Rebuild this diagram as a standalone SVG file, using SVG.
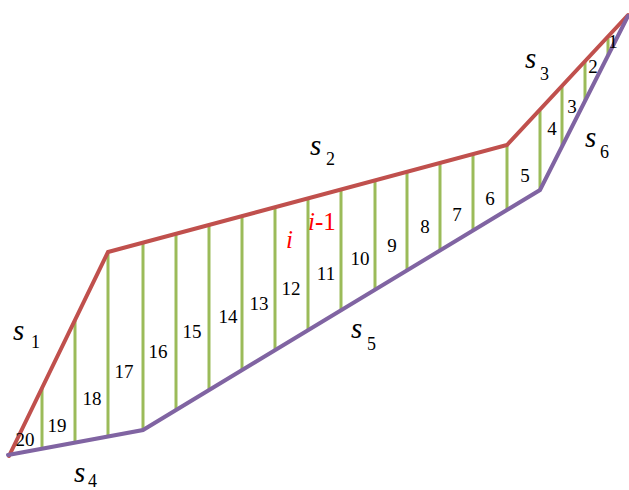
<svg xmlns="http://www.w3.org/2000/svg" width="629" height="490" viewBox="0 0 629 490">
<style>
.top{fill:none;stroke:#C0504D;stroke-width:4;stroke-linejoin:miter;stroke-linecap:round}
.bot{fill:none;stroke:#8064A2;stroke-width:4;stroke-linejoin:miter;stroke-linecap:round}
.g{stroke:#9BBB59;stroke-width:3}
.n{font-size:19px;fill:#000;text-anchor:middle}
.s{font-style:italic;font-size:29px;fill:#000}
.sub{font-size:18px;fill:#000}
.r{font-style:italic;font-size:25px;fill:#FF0000}
</style>
<rect width="629" height="490" fill="#fff"/>
<g id="connectors">
<g id="dividers">
<line class="g" x1="42" y1="388" x2="42" y2="449"/>
<line class="g" x1="75" y1="321" x2="75" y2="443"/>
<line class="g" x1="108" y1="252" x2="108" y2="437"/>
<line class="g" x1="143" y1="243" x2="143" y2="430"/>
<line class="g" x1="176" y1="234" x2="176" y2="410"/>
<line class="g" x1="209" y1="225" x2="209" y2="390"/>
<line class="g" x1="242" y1="216" x2="242" y2="370"/>
<line class="g" x1="275" y1="207" x2="275" y2="350"/>
<line class="g" x1="308" y1="198" x2="308" y2="330"/>
<line class="g" x1="341" y1="190" x2="341" y2="310"/>
<line class="g" x1="375" y1="180" x2="375" y2="289"/>
<line class="g" x1="407" y1="172" x2="407" y2="270"/>
<line class="g" x1="440" y1="163" x2="440" y2="250"/>
<line class="g" x1="473" y1="154" x2="473" y2="230"/>
<line class="g" x1="507" y1="145" x2="507" y2="209"/>
<line class="g" x1="540" y1="111" x2="540" y2="190"/>
<line class="g" x1="562" y1="87" x2="562" y2="147"/>
<line class="g" x1="585" y1="62" x2="585" y2="101"/>
<line class="g" x1="608" y1="37" x2="608" y2="56"/>
</g>
<polyline id="top-boundary" class="top" points="9,456 108,252 507,145 628,15"/>
<polyline id="bottom-boundary" class="bot" points="8,455 143,430 540,190 628,16"/>
</g>
<g font-family="Liberation Serif, Times New Roman, serif">
<g id="slice-labels">
<text class="n" x="25" y="446">20</text>
<text class="n" x="57" y="432">19</text>
<text class="n" x="92" y="405">18</text>
<text class="n" x="124" y="378">17</text>
<text class="n" x="158" y="358">16</text>
<text class="n" x="192" y="338">15</text>
<text class="n" x="228" y="323">14</text>
<text class="n" x="259" y="310">13</text>
<text class="n" x="291" y="295">12</text>
<text class="n" x="326" y="280">11</text>
<text class="n" x="360" y="265">10</text>
<text class="n" x="392" y="252">9</text>
<text class="n" x="425" y="233">8</text>
<text class="n" x="457" y="221">7</text>
<text class="n" x="490" y="205">6</text>
<text class="n" x="525" y="182">5</text>
<text class="n" x="552" y="135">4</text>
<text class="n" x="572" y="113">3</text>
<text class="n" x="593" y="73">2</text>
<text class="n" x="613" y="48">1</text>
</g>
<g id="index-labels">
<text class="r" x="286" y="248">i</text>
<text class="r" x="308" y="230">i<tspan font-style="normal">-1</tspan></text>
</g>
<g id="side-labels">
<g id="s1"><text class="s" x="13" y="340">s</text><text class="sub" x="31" y="348">1</text></g>
<g id="s2"><text class="s" x="310" y="155">s</text><text class="sub" x="326" y="165">2</text></g>
<g id="s3"><text class="s" x="525" y="68">s</text><text class="sub" x="540" y="80">3</text></g>
<g id="s4"><text class="s" x="74" y="482">s</text><text class="sub" x="88" y="487">4</text></g>
<g id="s5"><text class="s" x="351" y="338">s</text><text class="sub" x="367" y="350">5</text></g>
<g id="s6"><text class="s" x="585" y="147">s</text><text class="sub" x="600" y="158">6</text></g>
</g>
</g>
</svg>
